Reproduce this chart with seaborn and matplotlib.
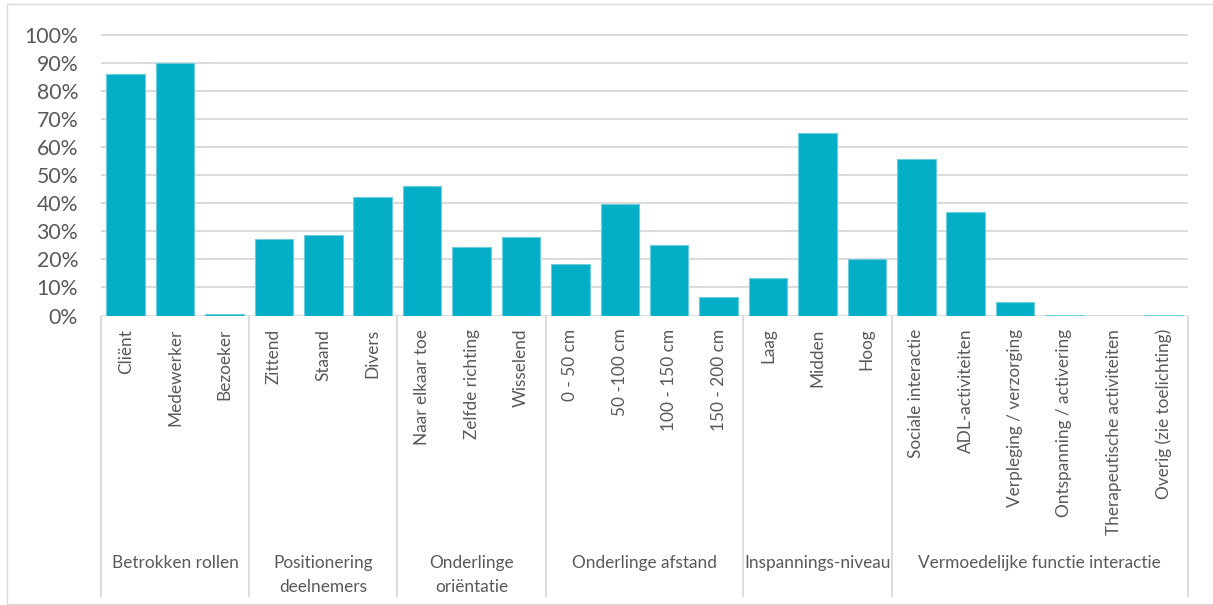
import matplotlib
matplotlib.use("Agg")
import matplotlib.pyplot as plt
import matplotlib.transforms as mtransforms
from matplotlib.patches import Rectangle
import pandas as pd
import seaborn as sns

# Category groups and their members
groups = [
    "Betrokken rollen",
    "Positionering\ndeelnemers",
    "Onderlinge\noriëntatie",
    "Onderlinge afstand",
    "Inspannings-niveau",
    "Vermoedelijke functie interactie",
]
group_sizes = [3, 3, 3, 4, 3, 6]

categories = [
    "Cliënt", "Medewerker", "Bezoeker",
    "Zittend", "Staand", "Divers",
    "Naar elkaar toe", "Zelfde richting", "Wisselend",
    "0 - 50 cm", "50 -100 cm", "100 - 150 cm", "150 - 200 cm",
    "Laag", "Midden", "Hoog",
    "Sociale interactie", "ADL-activiteiten", "Verpleging / verzorging",
    "Ontspanning / activering", "Therapeutische activiteiten", "Overig (zie toelichting)",
]

values = [
    0.86, 0.90, 0.006,
    0.274, 0.288, 0.423,
    0.463, 0.245, 0.279,
    0.184, 0.399, 0.250, 0.066,
    0.135, 0.652, 0.201,
    0.558, 0.369, 0.047, 0.003, 0.0, 0.003,
]

yticks = [i / 10 for i in range(11)]
ytick_labels = [f"{i * 10}%" for i in range(11)]

BAR = "#05AEC7"
EDGE = "#6CCEDC"
GRID = "#D9D9D9"
TEXT = "#595959"

sns.set_style("white")
plt.rcParams["font.family"] = ["Lato", "DejaVu Sans"]

df = pd.DataFrame({"categorie": categories, "aandeel": values})

W, H = 1213, 605
fig = plt.figure(figsize=(W / 100, H / 100), dpi=100)
ax = fig.add_axes([101 / W, (H - 315.5) / H, 1087 / W, 281.5 / H])

sns.barplot(data=df, x="categorie", y="aandeel", order=categories,
            color=BAR, saturation=1, width=0.78, edgecolor=EDGE,
            linewidth=0.8, ax=ax)

ax.set_xlim(-0.5, len(categories) - 0.5)
ax.set_ylim(0, 1.003)
ax.set_yticks(yticks)
ax.set_yticklabels(ytick_labels, fontsize=15.3, color=TEXT)
ax.set_xticks(range(len(categories)))
ax.set_xticklabels(categories, rotation=90, va="top", ha="center",
                   fontsize=12.4, color=TEXT)
ax.tick_params(axis="y", length=0, pad=16.5)
ax.tick_params(axis="x", length=0, pad=9.5)
ax.set_xlabel("")
ax.set_ylabel("")
for s in ax.spines.values():
    s.set_visible(False)
ax.yaxis.grid(True, color=GRID, linewidth=1.3)
ax.set_axisbelow(True)

# Group separators and group labels below the category labels
trans = mtransforms.blended_transform_factory(ax.transData, ax.transAxes)
bounds = [-0.5]
for n in group_sizes:
    bounds.append(bounds[-1] + n)
for b in bounds:
    ax.plot([b, b], [0, -1.0], transform=trans, color=GRID, linewidth=1.3,
            clip_on=False, solid_capstyle="butt")
for g, lo, hi in zip(groups, bounds[:-1], bounds[1:]):
    ax.text((lo + hi) / 2, -0.852, g, transform=trans, ha="center", va="top",
            fontsize=12.4, color=TEXT, linespacing=1.6)

# Chart frame
fig.patches.append(Rectangle((7 / W, 1 / H), 1.1, (H - 5) / H,
                             transform=fig.transFigure, fill=False,
                             edgecolor=GRID, linewidth=1.0))

fig.savefig("out.png", dpi=100)
